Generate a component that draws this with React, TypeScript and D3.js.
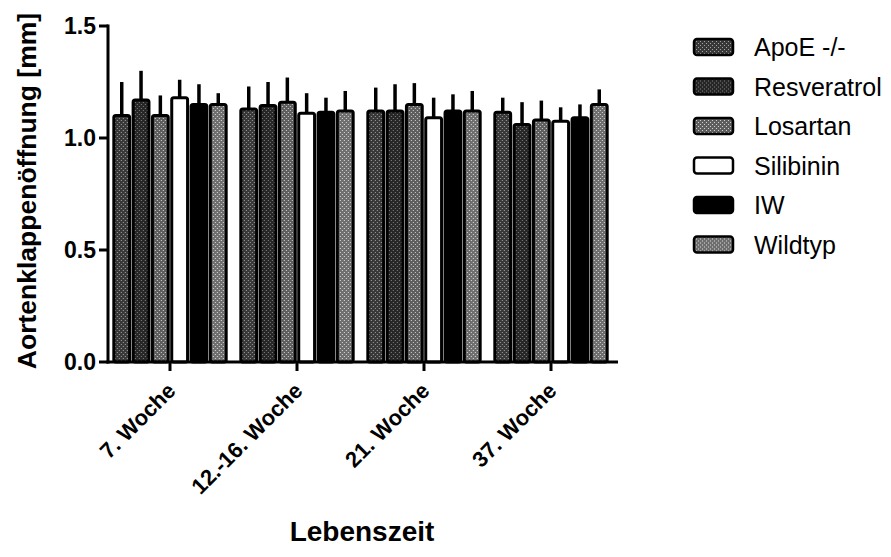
import React from "react";
import * as d3 from "d3";

const W = 891;
const H = 557;

const categories = ["7. Woche", "12.-16. Woche", "21. Woche", "37. Woche"];
const seriesNames = ["ApoE -/-", "Resveratrol", "Losartan", "Silibinin", "IW", "Wildtyp"];

// means per series, one value per category
const apoe = [1.1, 1.13, 1.12, 1.115];
const resveratrol = [1.17, 1.145, 1.12, 1.06];
const losartan = [1.1, 1.16, 1.15, 1.08];
const silibinin = [1.18, 1.11, 1.09, 1.075];
const iw = [1.15, 1.115, 1.12, 1.09];
const wildtyp = [1.15, 1.12, 1.12, 1.15];

// upper error (SD)
const apoeErr = [0.15, 0.1, 0.105, 0.065];
const resveratrolErr = [0.13, 0.105, 0.12, 0.1];
const losartanErr = [0.09, 0.11, 0.095, 0.087];
const silibininErr = [0.08, 0.09, 0.09, 0.062];
const iwErr = [0.09, 0.065, 0.075, 0.06];
const wildtypErr = [0.05, 0.09, 0.09, 0.067];

const yTicks = [0, 0.5, 1.0, 1.5];

const means = [apoe, resveratrol, losartan, silibinin, iw, wildtyp];
const errs = [apoeErr, resveratrolErr, losartanErr, silibininErr, iwErr, wildtypErr];

// fill per series: [base, speckle] (null speckle = solid)
const fills: [string, string | null][] = [
  ["#383838", "#a0a0a0"],
  ["#262626", "#808080"],
  ["#5e5e5e", "#d0d0d0"],
  ["#ffffff", null],
  ["#000000", null],
  ["#6e6e6e", "#dadada"],
];

const FONT = "'Liberation Sans', Arial, sans-serif";

const fillOf = (i: number) => (fills[i][1] ? `url(#pat${i})` : fills[i][0]);

const App = () => {
  const y = d3.scaleLinear().domain([0, 1.5]).range([362, 26]);
  const x0 = d3
    .scaleBand()
    .domain(categories)
    .range([106.5, 614.5])
    .paddingInner(0.1)
    .paddingOuter(0.05);
  const x1 = d3
    .scaleBand()
    .domain(seriesNames)
    .range([0, x0.bandwidth()])
    .paddingInner(0.18)
    .paddingOuter(0.05);

  return (
    <svg
      width={W}
      height={H}
      style={{ position: "absolute", left: 0, top: 0, background: "#fff" }}
      fontFamily={FONT}
    >
      <defs>
        {fills.map(([base, dot], i) =>
          dot ? (
            <pattern key={i} id={`pat${i}`} width={4} height={4} patternUnits="userSpaceOnUse">
              <rect width={4} height={4} fill={base} />
              <rect x={0} y={0} width={1} height={1} fill={dot} />
              <rect x={2} y={2} width={1} height={1} fill={dot} />
            </pattern>
          ) : null
        )}
      </defs>

      {/* bars */}
      {categories.map((c, ci) => (
        <g key={c} transform={`translate(${x0(c)},0)`}>
          {seriesNames.map((s, si) => {
            const v = means[si][ci];
            const e = errs[si][ci];
            const bx = x1(s)!;
            const bw = x1.bandwidth();
            return (
              <g key={s}>
                <line
                  x1={bx + bw / 2}
                  x2={bx + bw / 2}
                  y1={y(v)}
                  y2={y(v + e)}
                  stroke="#000"
                  strokeWidth={3.5}
                />
                <rect
                  x={bx}
                  y={y(v)}
                  width={bw}
                  height={y(0) - y(v)}
                  fill={fillOf(si)}
                  stroke="#000"
                  strokeWidth={3}
                  rx={2}
                />
              </g>
            );
          })}
        </g>
      ))}

      {/* y axis */}
      <line x1={108} x2={108} y1={24.5} y2={363.5} stroke="#000" strokeWidth={3} />
      {yTicks.map((t) => (
        <g key={t}>
          <line x1={99} x2={108} y1={y(t)} y2={y(t)} stroke="#000" strokeWidth={3} />
          <text
            x={96}
            y={y(t)}
            dy="0.36em"
            textAnchor="end"
            fontSize={23}
            fontWeight="bold"
          >
            {d3.format(".1f")(t)}
          </text>
        </g>
      ))}

      {/* x axis */}
      <line x1={106.5} x2={618} y1={362} y2={362} stroke="#000" strokeWidth={3} />
      {categories.map((c) => {
        const cx = x0(c)! + x0.bandwidth() / 2;
        return (
          <g key={c}>
            <line x1={cx} x2={cx} y1={362} y2={371} stroke="#000" strokeWidth={3} />
            <text
              transform={`translate(${cx + 7},${392}) rotate(-45)`}
              textAnchor="end"
              fontSize={22}
              fontWeight="bold"
            >
              {c}
            </text>
          </g>
        );
      })}

      {/* axis titles */}
      <text
        transform={`translate(36,191) rotate(-90)`}
        textAnchor="middle"
        fontSize={26.5}
        fontWeight="bold"
      >
        Aortenklappenöffnung [mm]
      </text>
      <text x={362} y={541} textAnchor="middle" fontSize={28} fontWeight="bold">
        Lebenszeit
      </text>

      {/* legend */}
      {seriesNames.map((s, i) => (
        <g key={s} transform={`translate(694,${47 + i * 39.5})`}>
          <rect y={-8} width={39} height={16} rx={3} fill={fillOf(i)} stroke="#000" strokeWidth={2.5} />
          <text x={60} y={0} dy="0.36em" fontSize={25}>
            {s}
          </text>
        </g>
      ))}
    </svg>
  );
};

export default App;
